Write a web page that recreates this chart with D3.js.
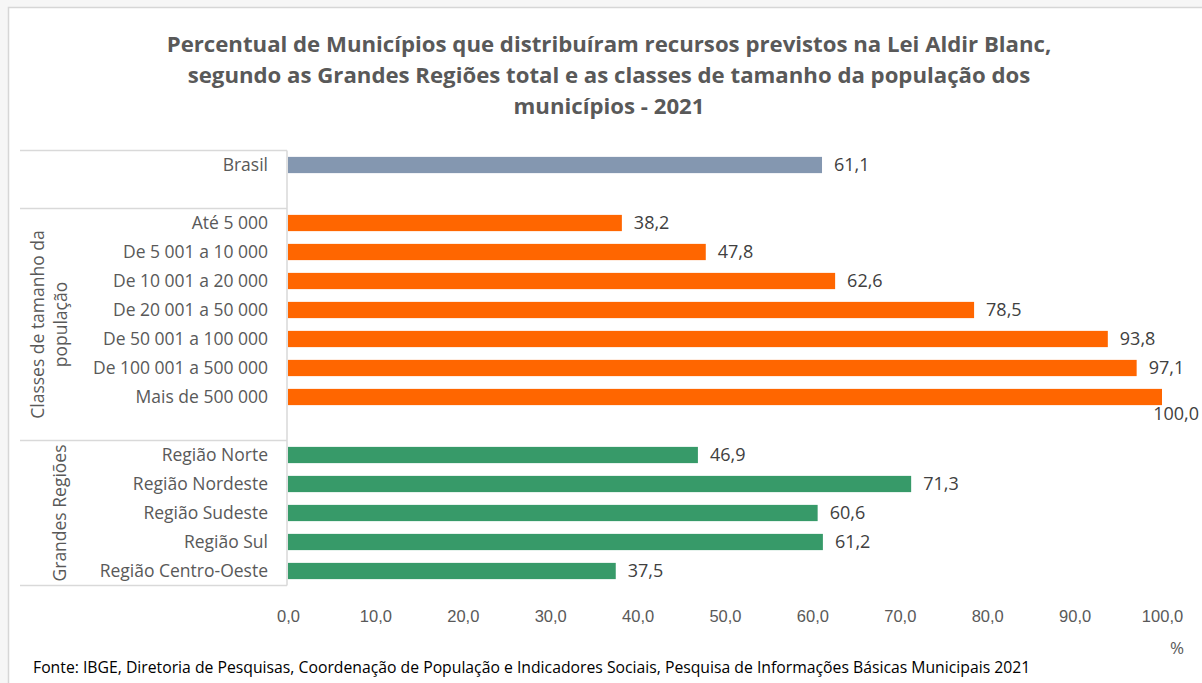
<!DOCTYPE html>
<html>
<head>
<meta charset="utf-8">
<script src="https://cdn.jsdelivr.net/npm/d3@7"></script>
<style>
  html, body { margin: 0; padding: 0; background: #f6f6f6; }
  svg { display: block; font-family: "Open Sans", Lato, sans-serif; }
</style>
</head>
<body>
<svg id="chart" width="1202" height="683"></svg>
<script>
// Row labels (blank entries leave a gap between groups)
const categories = [
  "Brasil", "",
  "Até 5 000", "De 5 001 a 10 000", "De 10 001 a 20 000", "De 20 001 a 50 000",
  "De 50 001 a 100 000", "De 100 001 a 500 000", "Mais de 500 000", "",
  "Região Norte", "Região Nordeste", "Região Sudeste", "Região Sul", "Região Centro-Oeste"
];
// Percent of municipalities per row (null = gap row)
const values = [
  61.1, null,
  38.2, 47.8, 62.6, 78.5, 93.8, 97.1, 100.0, null,
  46.9, 71.3, 60.6, 61.2, 37.5
];
// Series each row belongs to
const seriesOf = [
  "total", null,
  "classes", "classes", "classes", "classes", "classes", "classes", "classes", null,
  "regioes", "regioes", "regioes", "regioes", "regioes"
];
const seriesColors = { total: "#8497b0", classes: "#ff6600", regioes: "#379a69" };
// Group brackets: [first row, last row, label lines]
const groups = [
  { from: 0, to: 1, lines: [] },
  { from: 2, to: 9, lines: ["Classes de tamanho da", "população"] },
  { from: 10, to: 14, lines: ["Grandes Regiões"] }
];
const xTicks = [0, 10, 20, 30, 40, 50, 60, 70, 80, 90, 100];
const titleLines = [
  "Percentual de Municípios que distribuíram recursos previstos na Lei Aldir Blanc,",
  "segundo as Grandes Regiões total e as classes de tamanho da população dos",
  "municípios - 2021"
];
const sourceText = "Fonte: IBGE, Diretoria de Pesquisas, Coordenação de População e Indicadores Sociais, Pesquisa de Informações Básicas Municipais 2021";

const fmt = v => v.toFixed(1).replace(".", ",");

const svg = d3.select("#chart");

// White chart panel with thin border
svg.append("rect")
  .attr("x", 8.5).attr("y", 7.5).attr("width", 1210).attr("height", 700)
  .attr("fill", "#ffffff").attr("stroke", "#d6d6d6").attr("stroke-width", 1.5);

// Title
svg.append("g").selectAll("text").data(titleLines).join("text")
  .attr("x", 609).attr("y", (d, i) => 52 + i * 31)
  .attr("text-anchor", "middle")
  .attr("fill", "#595959").attr("font-weight", "bold").attr("font-size", 22.2)
  .text(d => d);

const x = d3.scaleLinear().domain([0, 100]).range([288, 1162]);
const y = d3.scaleBand().domain(d3.range(categories.length)).range([150.5, 585.5]).paddingInner(0.44).paddingOuter(0.22);

// Category labels
svg.append("g").selectAll("text").data(categories).join("text")
  .attr("x", 268).attr("y", (d, i) => y(i) + y.bandwidth() / 2)
  .attr("dy", "0.35em").attr("text-anchor", "end")
  .attr("fill", "#595959").attr("font-size", 17.5)
  .text(d => d);

// Group bracket lines
const step = y.step();
const edge = i => 150.5 + i * step;
const lineColor = "#d9d9d9";
const bracket = svg.append("g").attr("stroke", lineColor).attr("stroke-width", 1.5);
groups.forEach(g => {
  bracket.append("line").attr("x1", 20).attr("x2", 287).attr("y1", edge(g.from)).attr("y2", edge(g.from));
});
bracket.append("line").attr("x1", 20).attr("x2", 287).attr("y1", edge(categories.length)).attr("y2", edge(categories.length));
bracket.append("line").attr("x1", 287).attr("x2", 287).attr("y1", edge(0)).attr("y2", edge(categories.length));

// Rotated group labels
groups.forEach(g => {
  const cy = (edge(g.from) + edge(g.to + 1)) / 2;
  const n = g.lines.length;
  g.lines.forEach((t, k) => {
    const cx = n === 1 ? 60 : 38 + k * 23;
    svg.append("text")
      .attr("transform", `translate(${cx},${cy}) rotate(-90)`)
      .attr("text-anchor", "middle").attr("dy", "0.35em")
      .attr("fill", "#595959").attr("font-size", 17.5)
      .text(t);
  });
});

// Bars
const rows = values.map((v, i) => ({ v, i, s: seriesOf[i] })).filter(d => d.v !== null);
svg.append("g").selectAll("rect").data(rows).join("rect")
  .attr("x", x(0)).attr("y", d => y(d.i))
  .attr("width", d => x(d.v) - x(0)).attr("height", y.bandwidth())
  .attr("fill", d => seriesColors[d.s]);

// Value labels; a label that would run past the panel drops below its bar
svg.append("g").selectAll("text").data(rows).join("text")
  .each(function (d) {
    const t = d3.select(this);
    const overflow = x(d.v) + 12 + 45 > 1200;
    if (overflow) {
      t.attr("x", 1199).attr("y", y(d.i) + y.bandwidth() + 15).attr("text-anchor", "end");
    } else {
      t.attr("x", x(d.v) + 12).attr("y", y(d.i) + y.bandwidth() / 2).attr("dy", "0.35em");
    }
  })
  .attr("fill", "#404040").attr("font-size", 18)
  .text(d => fmt(d.v));

// X axis (labels only)
const axis = svg.append("g").attr("transform", "translate(0,607)")
  .call(d3.axisBottom(x).tickValues(xTicks).tickFormat(fmt).tickSize(0));
axis.select(".domain").remove();
axis.selectAll("text").attr("fill", "#595959").attr("font-size", 16.5).attr("font-family", null).attr("dy", "0.71em");

svg.append("text").attr("x", 1177).attr("y", 654).attr("text-anchor", "middle")
  .attr("fill", "#595959").attr("font-size", 17).text("%");

svg.append("text").attr("x", 33).attr("y", 673)
  .attr("fill", "#000000").attr("font-size", 15.75).text(sourceText);
</script>
</body>
</html>
